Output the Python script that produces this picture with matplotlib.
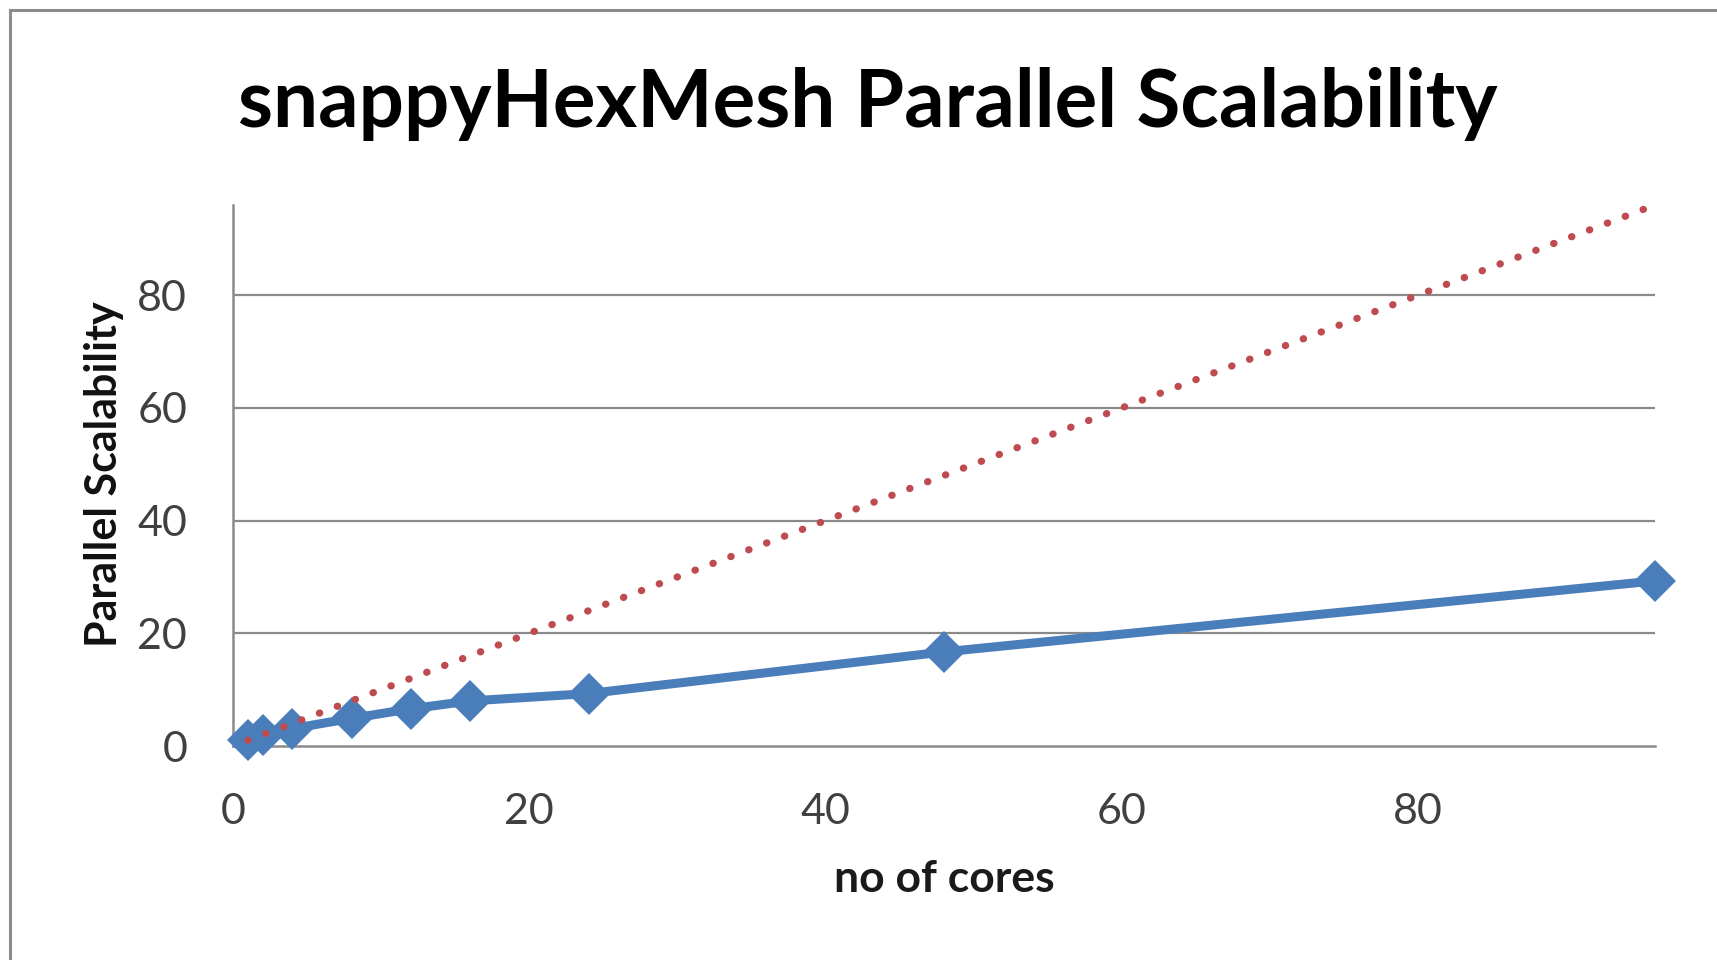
import matplotlib
matplotlib.use("Agg")
import matplotlib.pyplot as plt
from matplotlib.lines import Line2D

# speed-up measured for snappyHexMesh runs
cores = [1, 2, 4, 8, 12, 16, 24, 48, 96]
speedup = [1.0, 1.9, 3.1, 4.9, 6.6, 8.0, 9.3, 16.7, 29.3]

# ideal linear scaling
ideal_cores = [1, 96]
ideal_speedup = [1, 96]

x_ticks = [0, 20, 40, 60, 80]
y_ticks = [0, 20, 40, 60, 80]

W, H = 1717, 960
fig = plt.figure(figsize=(W / 100, H / 100), dpi=100)
fig.patch.set_facecolor("white")

ax = fig.add_axes([233 / W, 1 - 746 / H, (1655 - 233) / W, (746 - 205) / H])

grid_col = "#8a8a8a"
for y in y_ticks[1:]:
    ax.axhline(y, color=grid_col, lw=1.6, zorder=1)

ax.plot(cores, speedup, color="#4A7EBB", lw=6.5, marker="D", markersize=21,
        markeredgewidth=0, solid_joinstyle="round", zorder=3, clip_on=False)
ax.plot(ideal_cores, ideal_speedup, color="#BE4B50", lw=5.2, linestyle=(0, (0.05, 2.6)),
        dash_capstyle="round", zorder=4, clip_on=False)

ax.set_xlim(0, 96)
ax.set_ylim(0, 96)
ax.set_xticks(x_ticks)
ax.set_yticks(y_ticks)
for side in ("top", "right"):
    ax.spines[side].set_visible(False)
for side in ("left", "bottom"):
    ax.spines[side].set_color(grid_col)
    ax.spines[side].set_linewidth(1.8)
ax.tick_params(length=0, labelsize=31, labelcolor="#404040")
ax.tick_params(axis="y", pad=33)
ax.tick_params(axis="x", pad=34)
for lbl in ax.get_xticklabels() + ax.get_yticklabels():
    lbl.set_fontfamily("Lato")

fig.text(868 / W, 1 - 104 / H, "snappyHexMesh Parallel Scalability", ha="center", va="center",
         fontsize=57.5, fontweight="bold", family="Lato", color="black")
fig.text(944 / W, 1 - 879 / H, "no of cores", ha="center", va="center",
         fontsize=32, fontweight="bold", family="Lato", color="#1a1a1a")
fig.text(104 / W, 1 - 474 / H, "Parallel Scalability", ha="center", va="center", rotation=90,
         fontsize=31, fontweight="bold", family="Lato", color="#111111")

# chart frame, left and top edges
fig.add_artist(Line2D([10 / W, 10 / W], [0, 1 - 10 / H], color="#8c8c8c", lw=2.2))
fig.add_artist(Line2D([10 / W, 1], [1 - 10 / H, 1 - 10 / H], color="#8c8c8c", lw=2.2))

fig.savefig("out.png", dpi=100, facecolor="white")
